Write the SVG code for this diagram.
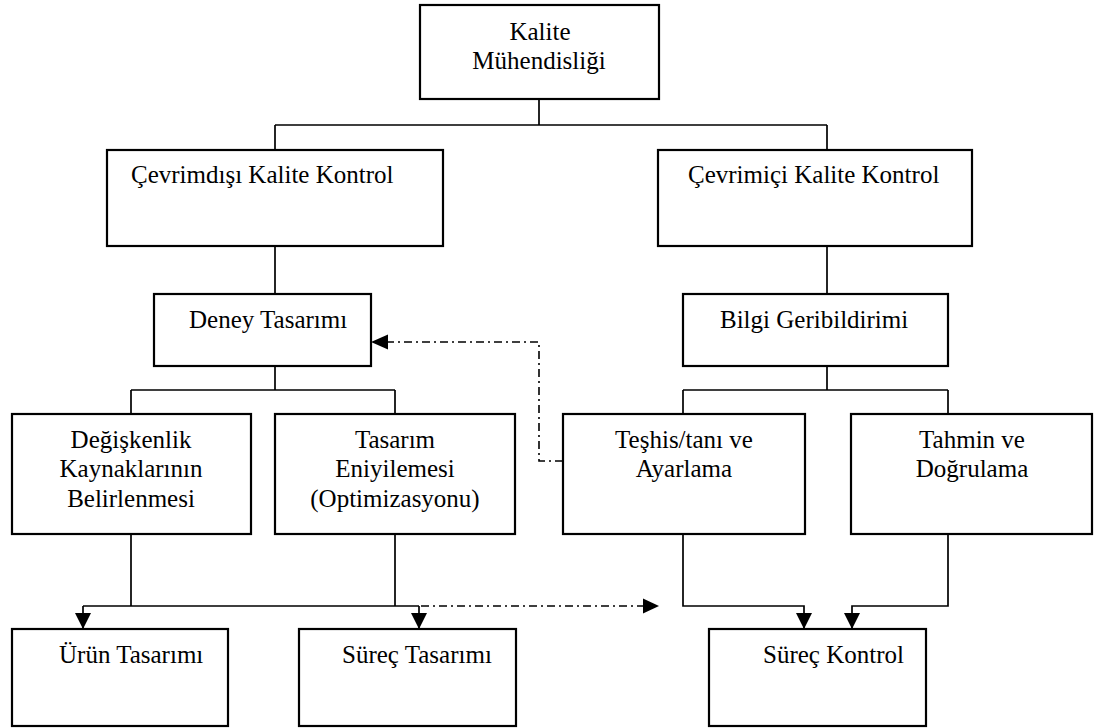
<svg xmlns="http://www.w3.org/2000/svg" width="1096" height="728" viewBox="0 0 1096 728">
<style>
.box{fill:#fff;stroke:#000;stroke-width:2.2}
.t{font-family:"Liberation Serif","Times New Roman",serif;font-size:25px;fill:#000}
.c{text-anchor:middle}
.ln{fill:none;stroke:#000;stroke-width:1.7}
.dd{fill:none;stroke:#000;stroke-width:1.6;stroke-dasharray:8 4 2 4}
</style>
<defs>
<marker id="ah" markerUnits="userSpaceOnUse" markerWidth="16" markerHeight="16" viewBox="0 0 16 16" refX="16" refY="8" orient="auto">
<path d="M0 0 L16 8 L0 16 Z" fill="#000"/>
</marker>
</defs>
<rect width="1096" height="728" fill="#fff"/>
<g id="connectors">
<path class="ln" d="M539 99 V125 M275 125 H827 M275 125 V150 M827 125 V150"/>
<path class="ln" d="M275 246 V294 M275 366 V390 M131 390 H395 M131 390 V414 M395 390 V414"/>
<path class="ln" d="M827 246 V294 M827 366 V390 M683 390 H948 M683 390 V414 M948 390 V414"/>
<path class="ln" d="M131 534 V606 M395 534 V606 M83 606 H419"/>
<path class="ln" d="M83 606 V629" marker-end="url(#ah)"/>
<path class="ln" d="M419 606 V629" marker-end="url(#ah)"/>
<path class="ln" d="M683 534 V606 H804 V629" marker-end="url(#ah)"/>
<path class="ln" d="M948 534 V606 H852 V629" marker-end="url(#ah)"/>
<path class="dd" d="M563 461 H539 V342 H388"/>
<path d="M371 342 L388 334.5 L388 349.5 Z" fill="#000"/>
<path class="dd" d="M421 606 H643"/>
<path d="M659 606 L643 598.5 L643 613.5 Z" fill="#000"/>
</g>
<g id="kalite-muhendisligi">
<rect class="box" x="420" y="5" width="239" height="94"/>
<text class="t c" x="540" y="40">Kalite</text>
<text class="t c" x="539" y="69">Mühendisliği</text>
</g>
<g id="cevrimdisi">
<rect class="box" x="107" y="150" width="336" height="96"/>
<text class="t" x="131" y="183">Çevrimdışı Kalite Kontrol</text>
</g>
<g id="cevrimici">
<rect class="box" x="658" y="150" width="314" height="96"/>
<text class="t" x="688" y="183">Çevrimiçi Kalite Kontrol</text>
</g>
<g id="deney-tasarimi">
<rect class="box" x="154" y="294" width="217" height="72"/>
<text class="t" x="189" y="328">Deney Tasarımı</text>
</g>
<g id="bilgi-geribildirimi">
<rect class="box" x="683" y="294" width="265" height="72"/>
<text class="t" x="720" y="328">Bilgi Geribildirimi</text>
</g>
<g id="degiskenlik">
<rect class="box" x="12" y="414" width="239" height="120"/>
<text class="t c" x="131" y="448">Değişkenlik</text>
<text class="t c" x="131" y="477">Kaynaklarının</text>
<text class="t c" x="131" y="507">Belirlenmesi</text>
</g>
<g id="tasarim-eniyilemesi">
<rect class="box" x="275" y="414" width="240" height="120"/>
<text class="t c" x="395" y="448">Tasarım</text>
<text class="t c" x="395" y="477">Eniyilemesi</text>
<text class="t c" x="395" y="507">(Optimizasyonu)</text>
</g>
<g id="teshis">
<rect class="box" x="563" y="414" width="242" height="120"/>
<text class="t c" x="684" y="448">Teşhis/tanı ve</text>
<text class="t c" x="684" y="477">Ayarlama</text>
</g>
<g id="tahmin">
<rect class="box" x="851" y="414" width="241" height="120"/>
<text class="t c" x="972" y="448">Tahmin ve</text>
<text class="t c" x="972" y="477">Doğrulama</text>
</g>
<g id="urun-tasarimi">
<rect class="box" x="12" y="629" width="216" height="97"/>
<text class="t" x="59" y="663">Ürün Tasarımı</text>
</g>
<g id="surec-tasarimi">
<rect class="box" x="299" y="629" width="217" height="97"/>
<text class="t" x="342" y="663">Süreç Tasarımı</text>
</g>
<g id="surec-kontrol">
<rect class="box" x="709" y="629" width="217" height="97"/>
<text class="t" x="763" y="663">Süreç Kontrol</text>
</g>
</svg>
